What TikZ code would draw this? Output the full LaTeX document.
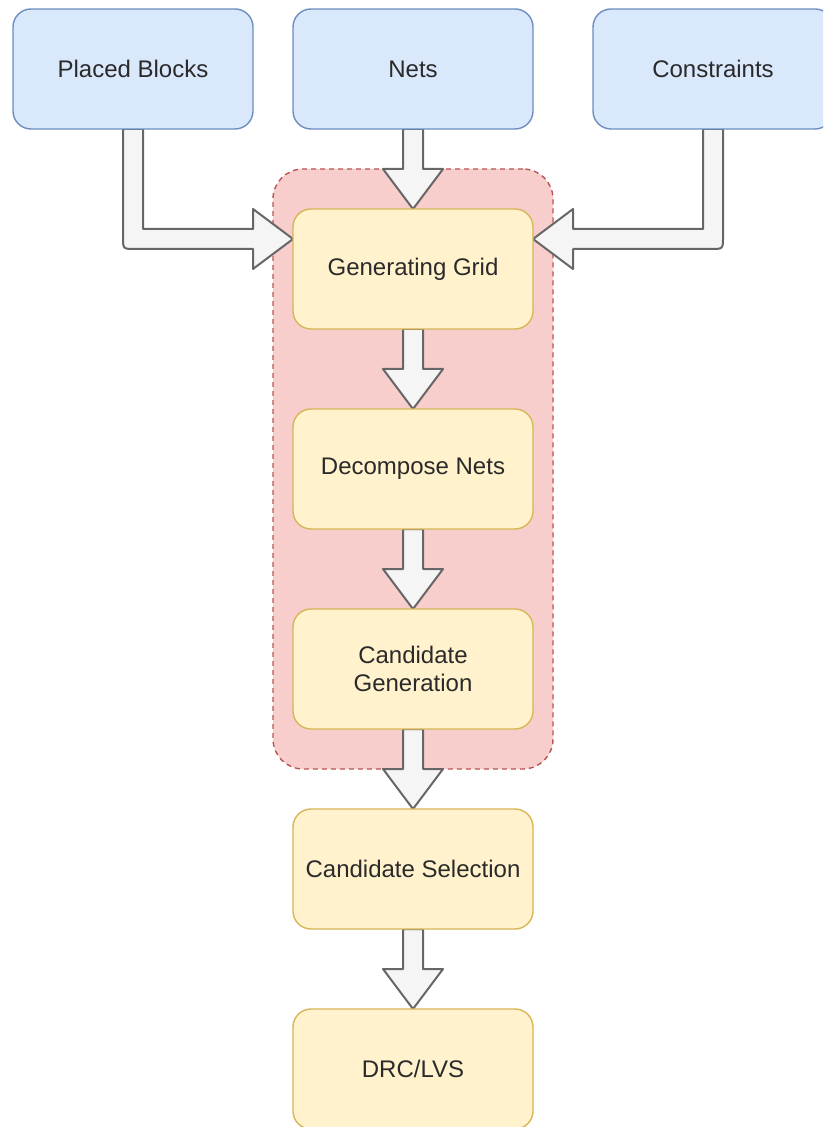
\documentclass[tikz,border=0pt]{standalone}
\usepackage{fontspec}
\setmainfont{Liberation Sans}
\usetikzlibrary{calc}
\usetikzlibrary{fit}
\usetikzlibrary{backgrounds}

\definecolor{inFill}{HTML}{DAE8FC}
\definecolor{inDraw}{HTML}{6C8EBF}
\definecolor{stFill}{HTML}{FFF2CC}
\definecolor{stDraw}{HTML}{D6B656}
\definecolor{grFill}{HTML}{F8CECC}
\definecolor{grDraw}{HTML}{B85450}
\definecolor{arFill}{HTML}{F5F5F5}
\definecolor{arDraw}{HTML}{666666}
\definecolor{txtGray}{HTML}{2A2A2A}

\begin{document}
\begin{tikzpicture}[x=0.5pt, y=-0.5pt,
  font=\fontsize{12}{14}\selectfont,
  box/.style={rectangle, rounded corners=9pt, minimum width=120pt, minimum height=60pt,
    outer sep=0pt, line width=0.7pt, align=center, text=txtGray},
  input/.style={box, draw=inDraw, fill=inFill},
  stage/.style={box, draw=stDraw, fill=stFill},
  group/.style={rectangle, rounded corners=15pt, draw=grDraw, fill=grFill, line width=0.7pt,
    dash pattern=on 2.5pt off 2pt, inner xsep=10pt, inner ysep=20pt},
  fatarrow/.style={draw=arDraw, fill=arFill, line width=1pt, line join=round}]
\useasboundingbox (0,0) rectangle (823,1127);
\clip (0,0) rectangle (823,1127);
% inputs
\node at (133,  69) (pb)  [input] {Placed Blocks};
\node at (413,  69) (nets) [input] {Nets};
\node at (713,  69) (cn)  [input] {Constraints};
% routing stages
\node at (413, 269) (gen) [stage] {Generating Grid};
\node at (413, 469) (dec) [stage] {Decompose Nets};
\node at (413, 669) (cg)  [stage] {Candidate\\Generation};
\node at (413, 869) (cs)  [stage] {Candidate Selection};
\node at (413,1069) (drc) [stage] {DRC/LVS};
\coordinate (ggl) at ($(gen.north west)!0.25!(gen.south west)$);
\coordinate (ggr) at ($(gen.north east)!0.25!(gen.south east)$);
\coordinate (pbk) at (pb.south |- ggl);
\coordinate (cnk) at (cn.south |- ggr);
\begin{scope}[on background layer]
\node (grp) [group, fit=(gen)(cg)] {};
\foreach \a/\b in {nets/gen, gen/dec, dec/cg, cg/cs, cs/drc}
  \draw [fatarrow] ($(\a.south)+(-10,0)$) -- ($(\b.north)+(-10,-40)$) -- ($(\b.north)+(-30,-40)$)
    -- (\b.north) -- ($(\b.north)+(30,-40)$) -- ($(\b.north)+(10,-40)$) -- ($(\a.south)+(10,0)$) -- cycle;
% elbow arrows into the grid step
\draw [fatarrow] ($(pb.south)+(-10,0)$) -- ($(pbk)+(-10,-2)$) .. controls ($(pbk)+(-10,10)$) .. ($(pbk)+(2,10)$)
  -- ($(ggl)+(-40,10)$) -- ($(ggl)+(-40,30)$) -- (ggl) -- ($(ggl)+(-40,-30)$) -- ($(ggl)+(-40,-10)$)
  -- ($(pbk)+(10,-10)$) -- ($(pb.south)+(10,0)$) -- cycle;
\draw [fatarrow] ($(cn.south)+(10,0)$) -- ($(cnk)+(10,-2)$) .. controls ($(cnk)+(10,10)$) .. ($(cnk)+(-2,10)$)
  -- ($(ggr)+(40,10)$) -- ($(ggr)+(40,30)$) -- (ggr) -- ($(ggr)+(40,-30)$) -- ($(ggr)+(40,-10)$)
  -- ($(cnk)+(-10,-10)$) -- ($(cn.south)+(-10,0)$) -- cycle;
\end{scope}
\end{tikzpicture}
\end{document}
